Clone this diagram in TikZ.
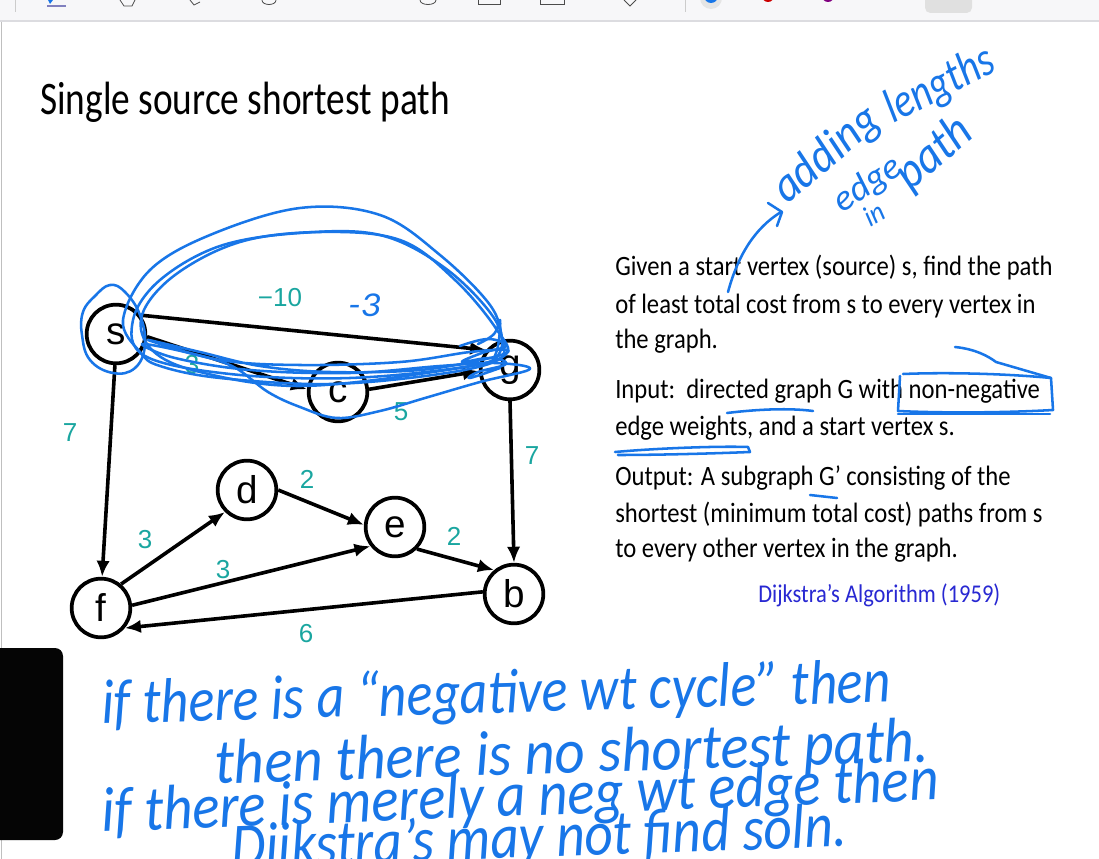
\documentclass[tikz,border=0pt]{standalone}
\usepackage{fontspec}
\usepackage{graphicx}
\usetikzlibrary{arrows.meta}
\setmainfont{Carlito}
\newfontfamily\titlefont[FakeStretch=0.80]{Carlito}
\newfontfamily\bodyfont[FakeStretch=0.88]{Carlito}
\newfontfamily\hwfont[FakeStretch=0.80]{Carlito}
\newfontfamily\graphfont{Liberation Sans}
\definecolor{ink}{RGB}{24,118,232}
\definecolor{wtcol}{RGB}{26,166,160}
\definecolor{dijk}{RGB}{40,40,210}
\definecolor{tbbg}{RGB}{247,247,249}
\definecolor{tbline}{RGB}{220,220,224}
\newcommand\hwline[3]{\resizebox{#1}{#2}{\hwfont\itshape #3}}
\tikzset{
  vtx/.style={circle, draw, line width=2.8pt, minimum size=44pt, inner sep=0pt,
    font=\graphfont\fontsize{29}{29}\selectfont},
  edge/.style={line width=2.7pt, -{Latex[length=12pt,width=10pt]}},
  wt/.style={text=wtcol, font=\graphfont\fontsize{19.5}{19.5}\selectfont, inner sep=0pt},
  body/.style={anchor=base west, inner sep=0pt, font=\bodyfont\fontsize{21}{25}\selectfont},
  hw/.style={draw=ink, line width=1.9pt, line cap=round, line join=round},
  hwbig/.style={text=ink, inner sep=0pt, anchor=base west}
}
\begin{document}
\begin{tikzpicture}[x=0.75pt,y=-0.75pt]
\useasboundingbox (0,0) rectangle (1099,859);
\clip (0,0) rectangle (1099,859);
\fill[white] (0,0) rectangle (1099,859);
% toolbar
\fill[tbbg] (0,0) rectangle (1099,20);
\draw[tbline, line width=1.2pt] (0,21) -- (1099,21);
\draw[black!25, line width=0.6pt] (1,22) -- (1,859);
\draw[black!20, line width=0.6pt] (15,0) -- (15,12);
\draw[black!20, line width=0.6pt] (685,0) -- (685,12);
\fill[ink] (46,-4) -- (56,-4) -- (50,4) -- cycle;
\draw[blue!50!black!50, line width=0.8pt] (47,6) -- (66,6);
\draw[black!70, line width=0.6pt] (120,0) -- (124,6) -- (132,6) -- (135,0);
\draw[black!70, line width=0.6pt] (190,0) -- (194,5) -- (200,2);
\draw[black!70, line width=0.6pt] (262,0) .. controls (262,6) and (276,6) .. (276,0);
\draw[black!70, line width=0.6pt] (420,0) .. controls (420,6) and (436,6) .. (436,0);
\draw[black!70, line width=0.6pt] (478,0) -- (478,4) -- (500,4) -- (500,0);
\draw[black!70, line width=0.6pt] (540,0) -- (540,4) -- (564,4) -- (564,0);
\draw[black!70, line width=0.6pt] (624,0) -- (630,6) -- (636,0);
\fill[black!10] (711,-2) circle (11);
\fill[ink] (711,-4) circle (7);
\fill[red!80!black] (768,-4) circle (6);
\fill[violet] (828,-4) circle (6);
\fill[black!12, rounded corners=4pt] (925,-10) rectangle (972,13);
% black box lower left
\fill[black!98, rounded corners=6pt] (-10,648) rectangle (63,840);
% title
\node[anchor=base west, inner sep=0pt, font=\titlefont\fontsize{35}{40}\selectfont] (title) at (40,115) {Single source shortest path};
% right text
\node[body] (t1) at (615,276) {Given a start vertex (source) s, find the path};
\node[body] (t2) at (615,313) {of least total cost from s to every vertex in};
\node[body] (t3) at (615,348) {the graph.};
\node[body] (t4) at (615,398) {Input:\ \ directed graph G with non-negative};
\node[body] (t5) at (615,435) {edge weights, and a start vertex s.};
\node[body] (t6) at (615,485) {Output: A subgraph G’ consisting of the};
\node[body] (t7) at (615,522) {shortest (minimum total cost) paths from s};
\node[body] (t8) at (615,557) {to every other vertex in the graph.};
\node[body, text=dijk] (t9) at (758,602) {\resizebox{181.5pt}{!}{Dijkstra’s Algorithm (1959)}};
% graph
\node[vtx] (s) at (116,334) {s};
\node[vtx] (c) at (338,392) {c};
\node[vtx] (g) at (510,370) {g};
\node[vtx] (d) at (247,490) {d};
\node[vtx] (e) at (395,527) {e};
\node[vtx] (b) at (514,594) {b};
\node[vtx] (f) at (101,608) {f};
\draw[edge] (s.37) -- (g.140);
\draw[edge] (s.-5) -- (c.175);
\draw[edge] (c.5) -- (g.182);
\draw[edge] (s.-92) -- (f.88);
\draw[edge] (g.-90) -- (b.90);
\draw[edge] (f.50) -- (d.225);
\draw[edge] (d.0) -- (e.176);
\draw[edge] (f.5) -- (e.218);
\draw[edge] (e.-45) -- (b.130);
\draw[edge] (b.176) -- (f.-40);
\node[wt] (w1) at (280,298) {−10};
\node[wt] (w2) at (192,365) {3};
\node[wt] (w3) at (401,412) {5};
\node[wt] (w4) at (70,433) {7};
\node[wt] (w5) at (532,456) {7};
\node[wt] (w6) at (307,479) {2};
\node[wt] (w7) at (145,540) {3};
\node[wt] (w8) at (223,570) {3};
\node[wt] (w9) at (454,536) {2};
\node[wt] (w10) at (306,634) {6};
% handwritten loops
\draw[hw] plot[smooth cycle, tension=0.6] coordinates {(140,352) (123,320) (150,270) (210,235) (300,208) (380,215) (440,255) (490,305) (502,340) (498,360) (440,374) (330,384) (220,378) (160,366)};
\draw[hw] plot[smooth cycle, tension=0.6] coordinates {(145,356) (133,320) (160,280) (220,246) (300,233) (380,235) (445,268) (494,318) (500,352) (470,366) (350,378) (230,374)};
\draw[hw] plot[smooth cycle, tension=0.6] coordinates {(152,350) (142,315) (175,275) (240,242) (320,232) (400,240) (455,280) (497,330) (504,356) (440,371) (300,386) (200,372)};
\draw[hw] plot[smooth cycle, tension=0.6] coordinates {(142,344) (185,352) (232,366) (268,392) (300,407) (337,418) (380,411) (425,398) (480,382) (530,369) (495,363) (440,366) (350,373) (250,370) (175,358)};
\draw[hw] plot[smooth cycle, tension=0.6] coordinates {(148,340) (200,352) (260,366) (330,372) (420,370) (490,358) (508,350) (470,352) (400,362) (300,365) (220,360)};
\draw[hw] plot[smooth cycle, tension=0.7] coordinates {(83,312) (95,296) (110,285) (125,292) (140,315) (145,345) (135,368) (113,373) (90,360) (82,335)};
\draw[hw] plot[smooth, tension=0.7] coordinates {(460,346) (488,339) (506,346) (482,353) (462,362) (490,358) (506,364) (478,372) (470,378) (500,368)};
\draw[hw] plot[smooth, tension=0.7] coordinates {(478,344) (494,334) (500,320) (498,346) (492,362)};
\node[hwbig] (m3) at (348,316) {\hwline{24pt}{17pt}{-3}};
% annotation arrow and words
\coordinate (a0) at (728,292);
\coordinate (a1) at (781,212);
\draw[hw] (a0) .. controls (738,255) and (755,228) .. (a1);
\draw[hw] (768,203) -- (782,212) -- (777,226);
\node[hwbig, rotate=40] (h1) at (787,205) {\hwline{94pt}{25pt}{adding}};
\node[hwbig, rotate=27] (h3) at (893,124) {\hwline{88pt}{25pt}{lengths}};
\node[hwbig, rotate=34] (h2) at (842,214) {\hwline{56pt}{19pt}{edge}};
\node[hwbig, rotate=30] (h4) at (870,228) {\hwline{15pt}{15pt}{in}};
\node[hwbig, rotate=40] (h5) at (910,192) {\hwline{64pt}{26pt}{path}};
% text annotations
\draw[hw] (903,374) .. controls (950,372) and (1010,374) .. (1051,378) -- (1053,410) .. controls (1000,413) and (940,413) .. (898,411) -- (900,376);
\draw[hw] (898,414) -- (1050,414);
\draw[hw] (955,347) .. controls (975,349) and (988,356) .. (996,362) -- (1051,378);
\draw[hw] (727,413) .. controls (760,409) and (790,408) .. (813,411);
\draw[hw] (615,452) .. controls (660,448) and (720,446) .. (748,447) -- (750,452) .. controls (700,454) and (650,455) .. (618,455);
\draw[hw] (810,495) -- (837,498);
% bottom handwriting
\node[hwbig, rotate=1.6] (b1) at (102,724) {\hwline{592pt}{34pt}{if there is a “negative wt cycle” then}};
\node[hwbig, rotate=1.8] (b2) at (215,784) {\hwline{536pt}{33pt}{then there is no shortest path.}};
\node[hwbig, rotate=2.2] (b3) at (102,832) {\hwline{628pt}{33pt}{if there is merely a neg wt edge then}};
\node[hwbig, rotate=2] (b4) at (232,868) {\hwline{462pt}{33pt}{Dijkstra’s may not find soln.}};
\end{tikzpicture}
\end{document}
